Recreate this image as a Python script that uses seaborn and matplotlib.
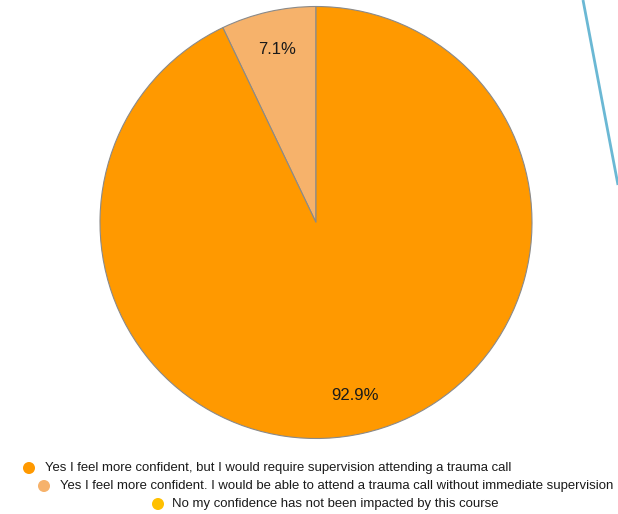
import matplotlib
matplotlib.use("Agg")
import matplotlib.pyplot as plt
import seaborn as sns

categories = [
    "Yes I feel more confident, but I would require supervision attending a trauma call",
    "Yes I feel more confident. I would be able to attend a trauma call without immediate supervision",
    "No my confidence has not been impacted by this course",
]
values = [92.9, 7.1, 0.0]
colors = ["#FF9900", "#F6B26B", "#FFC000"]

sns.set_style("white")
plt.rcParams["font.family"] = ["Liberation Sans", "DejaVu Sans"]

fig = plt.figure(figsize=(6.18, 5.14), dpi=100)
ax = fig.add_axes([0, 0, 1, 1])

# draw order: light slice first, starting at top, counterclockwise
order = [1, 0]
wedges, texts, autotexts = ax.pie(
    [values[i] for i in order],
    colors=[colors[i] for i in order],
    startangle=90, counterclock=True,
    center=(316, 291.5), radius=216,
    autopct=lambda p: f"{p:.1f}%", pctdistance=0.82,
    wedgeprops=dict(edgecolor="#8a8a8a", linewidth=0.8),
    textprops=dict(fontsize=12, color="#1a1a1a"),
    frame=True,
)
ax.set_xlim(0, 618)
ax.set_ylim(0, 514)
ax.axis("off")

# decorative blue line
ax.plot([583, 618], [514, 329], color="#6BB8D4", lw=2, solid_capstyle="butt")

# legend entries
pos = [(29, 46, 45), (44, 28, 60), (158, 10, 172)]
for (mx, my, tx), lab, c in zip(pos, categories, colors):
    ax.scatter([mx], [my], s=75, color=c, edgecolor="none", clip_on=False)
    ax.text(tx, my, lab, fontsize=9.45, va="center", ha="left", color="#1a1a1a")

fig.savefig("out.png", dpi=100)
